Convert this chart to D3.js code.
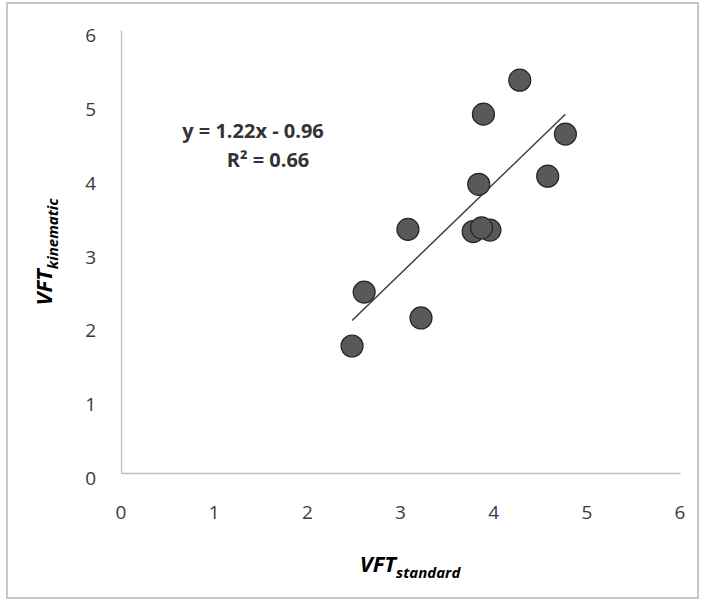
<!DOCTYPE html>
<html>
<head>
<meta charset="utf-8">
<script src="https://cdn.jsdelivr.net/npm/d3@7/dist/d3.min.js"></script>
<style>
  html, body { margin: 0; padding: 0; background: #fff; }
  svg { display: block; }
  text { font-family: "Open Sans", "Liberation Sans", sans-serif; }
</style>
</head>
<body>
<script>
// Visual field test scores: standard vs kinematic
const vftStandard  = [4.28, 3.89, 4.77, 3.84, 4.58, 3.08, 3.78, 3.96, 3.87, 2.61, 3.22, 2.48];
const vftKinematic = [5.32, 4.86, 4.59, 3.91, 4.02, 3.30, 3.27, 3.29, 3.32, 2.45, 2.10, 1.72];
const xTicks = [0, 1, 2, 3, 4, 5, 6];
const yTicks = [0, 1, 2, 3, 4, 5, 6];
// Linear trend line reported on the chart
const slope = 1.22;
const intercept = -0.96;
const equationLines = ["y = 1.22x - 0.96", "R² = 0.66"];

const W = 704, H = 602;
const svg = d3.select("body").append("svg").attr("width", W).attr("height", H);

// Chart frame
svg.append("rect")
  .attr("x", 7).attr("y", 3).attr("width", 691).attr("height", 595)
  .attr("fill", "#fff").attr("stroke", "#c8c8c8").attr("stroke-width", 2);

const x = d3.scaleLinear().domain([0, 6]).range([121, 680]);
const y = d3.scaleLinear().domain([0, 6]).range([473, 30]);

// Axes (lines only, labels drawn separately)
const xAxis = svg.append("g").attr("transform", `translate(0,${y(0)})`)
  .call(d3.axisBottom(x).tickValues(xTicks).tickSize(0).tickFormat(""));
const yAxis = svg.append("g").attr("transform", `translate(${x(0)},0)`)
  .call(d3.axisLeft(y).tickValues(yTicks).tickSize(0).tickFormat(""));
[xAxis, yAxis].forEach(g => g.select(".domain").attr("stroke", "#bfbfbf").attr("stroke-width", 1.3));

svg.append("g").selectAll("text").data(xTicks).join("text")
  .attr("x", d => x(d)).attr("y", 519)
  .attr("text-anchor", "middle")
  .attr("font-size", 19).attr("fill", "#3a3a3a")
  .text(d => d);

svg.append("g").selectAll("text").data(yTicks).join("text")
  .attr("x", 96).attr("y", d => y(d) + 12)
  .attr("text-anchor", "end")
  .attr("font-size", 19).attr("fill", "#3a3a3a")
  .text(d => d);

// Trend line across the data range
const xr = d3.extent(vftStandard);
svg.append("line")
  .attr("x1", x(xr[0])).attr("y1", y(slope * xr[0] + intercept))
  .attr("x2", x(xr[1])).attr("y2", y(slope * xr[1] + intercept))
  .attr("stroke", "#404040").attr("stroke-width", 1.5);

// Data points
svg.append("g").selectAll("circle").data(vftStandard).join("circle")
  .attr("cx", d => x(d))
  .attr("cy", (d, i) => y(vftKinematic[i]))
  .attr("r", 11)
  .attr("fill", "#595959")
  .attr("stroke", "#262626").attr("stroke-width", 1.2);

// Trend line equation
svg.append("text").attr("x", 253).attr("y", 138)
  .attr("text-anchor", "middle").attr("font-size", 20).attr("font-weight", "bold")
  .attr("fill", "#333").text(equationLines[0]);
svg.append("text").attr("x", 268).attr("y", 167)
  .attr("text-anchor", "middle").attr("font-size", 20).attr("font-weight", "bold")
  .attr("fill", "#333").text(equationLines[1]);

// Axis titles
const xt = svg.append("text").attr("x", 410).attr("y", 572)
  .attr("text-anchor", "middle").attr("font-weight", "bold").attr("font-style", "italic")
  .attr("fill", "#000");
xt.append("tspan").attr("font-size", 22).text("VFT");
xt.append("tspan").attr("font-size", 15).attr("dy", 6).text("standard");

const yt = svg.append("text")
  .attr("transform", "translate(52,252) rotate(-90)")
  .attr("text-anchor", "middle").attr("font-weight", "bold").attr("font-style", "italic")
  .attr("fill", "#000");
yt.append("tspan").attr("font-size", 22).text("VFT");
yt.append("tspan").attr("font-size", 15).attr("dy", 6).text("kinematic");
</script>
</body>
</html>
